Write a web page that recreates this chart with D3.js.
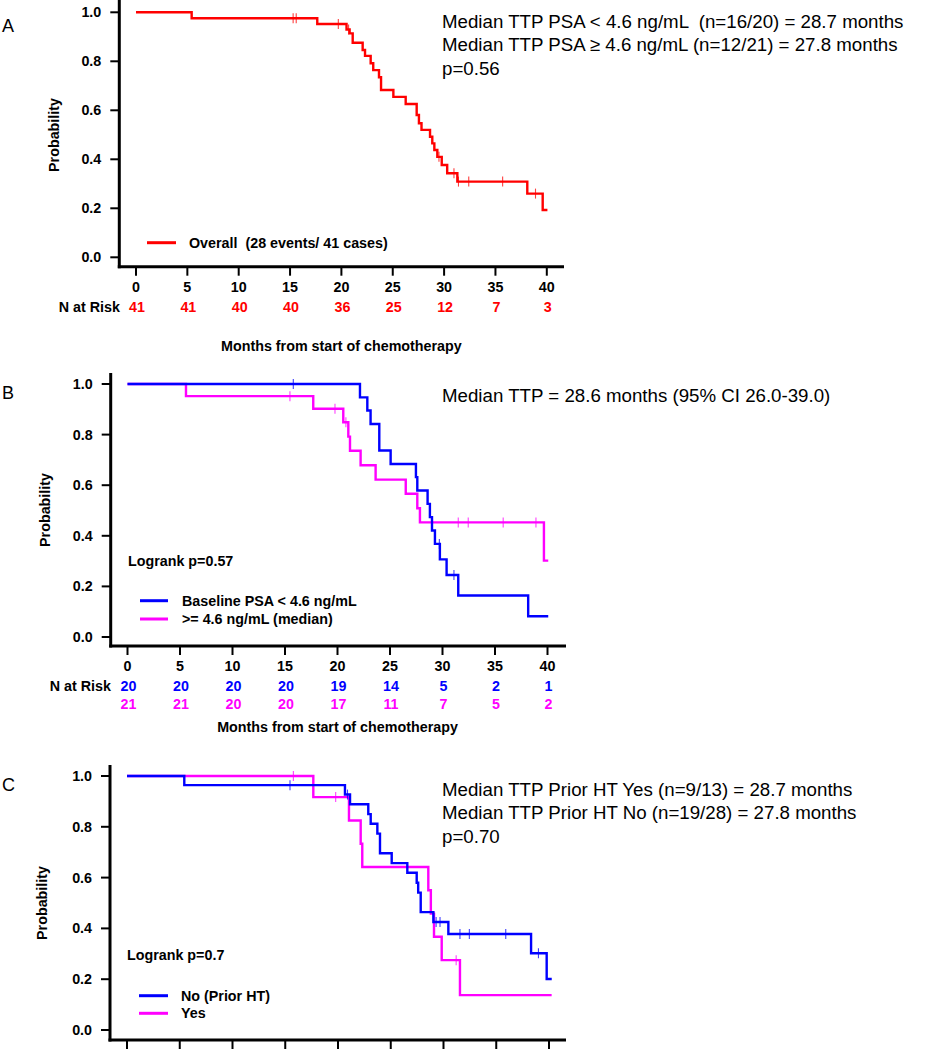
<!DOCTYPE html>
<html><head><meta charset="utf-8">
<script src="https://cdn.jsdelivr.net/npm/d3@7"></script>
<style>body{margin:0;background:#fff} svg{display:block} text{font-family:"Liberation Sans",Arial,sans-serif;white-space:pre}</style>
</head><body><svg id="c" width="950" height="1050"></svg>
<script>
// ---------- shared ticks ----------
const xTicks = [0, 5, 10, 15, 20, 25, 30, 35, 40];
const yTicks = [0, 0.2, 0.4, 0.6, 0.8, 1.0];

// ---------- Panel A : overall ----------
const aTimes = [0, 5.42, 17.65, 20.5, 20.8, 21.1, 22.07, 22.3, 22.85, 23.1, 23.66, 23.86, 25.06, 26.26, 27.33, 27.55, 27.8, 28.63, 28.85, 29.05, 29.34, 29.77, 30.3, 31.29, 38.1, 39.6];
const aSurv  = [1, 0.976, 0.952, 0.930, 0.914, 0.876, 0.846, 0.822, 0.792, 0.764, 0.735, 0.683, 0.655, 0.626, 0.581, 0.547, 0.520, 0.492, 0.465, 0.438, 0.410, 0.377, 0.343, 0.309, 0.260, 0.193];
const aEnd = 40.06;
const aCensor = [15.3, 15.6, 19.7, 20.7, 29.5, 30.96, 31.4, 32.4, 35.7, 38.9];
const aRisk = [41, 41, 40, 40, 36, 25, 12, 7, 3];
const aNotes = ["Median TTP PSA < 4.6 ng/mL  (n=16/20) = 28.7 months", "Median TTP PSA \u2265 4.6 ng/mL (n=12/21) = 27.8 months", "p=0.56"];
const aLegend = ["Overall  (28 events/ 41 cases)"];

// ---------- Panel B : baseline PSA ----------
const bLowTimes = [0, 22.14, 22.84, 23.15, 23.98, 25.06, 27.47, 27.6, 28.58, 28.8, 29.0, 29.28, 29.75, 30.39, 31.5, 38.16];
const bLowSurv  = [1, 0.947, 0.895, 0.842, 0.737, 0.684, 0.632, 0.579, 0.526, 0.474, 0.421, 0.368, 0.307, 0.245, 0.164, 0.082];
const bLowEnd = 40.07;
const bLowCensor = [15.79, 29.7, 31.09];
const bHighTimes = [0, 5.57, 17.69, 20.55, 21.03, 21.19, 22.2, 23.63, 26.5, 27.6, 27.85, 39.66];
const bHighSurv  = [1, 0.952, 0.902, 0.849, 0.792, 0.736, 0.679, 0.622, 0.566, 0.509, 0.453, 0.302];
const bHighEnd = 40.07;
const bHighCensor = [15.47, 19.76, 20.8, 31.5, 32.45, 35.78, 38.9];
const bRiskLow = [20, 20, 20, 20, 19, 14, 5, 2, 1];
const bRiskHigh = [21, 21, 20, 20, 17, 11, 7, 5, 2];
const bNotes = ["Median TTP = 28.6 months (95% CI 26.0-39.0)"];
const bLegend = ["Baseline PSA < 4.6 ng/mL", ">= 4.6 ng/mL (median)"];
const bLogrank = "Logrank p=0.57";

// ---------- Panel C : prior HT ----------
const cNoTimes = [0, 5.43, 20.66, 21.14, 22.87, 23.1, 23.73, 23.98, 25.09, 26.57, 27.46, 27.6, 27.84, 29.04, 30.46, 38.3, 39.78];
const cNoSurv  = [1, 0.964, 0.927, 0.889, 0.850, 0.812, 0.773, 0.696, 0.657, 0.619, 0.580, 0.541, 0.464, 0.425, 0.378, 0.302, 0.201];
const cNoEnd = 40.26;
const cNoCensor = [15.45, 20.9, 29.3, 29.67, 31.56, 32.45, 35.9, 39.0];
const cYesTimes = [0, 17.66, 21.04, 22.15, 22.3, 28.56, 28.8, 29.1, 29.83, 31.56];
const cYesSurv  = [1, 0.917, 0.825, 0.733, 0.642, 0.550, 0.458, 0.367, 0.275, 0.1375];
const cYesEnd = 40.25;
const cYesCensor = [15.77, 19.78, 31.2];
const cNotes = ["Median TTP Prior HT Yes (n=9/13) = 28.7 months", "Median TTP Prior HT No (n=19/28) = 27.8 months", "p=0.70"];
const cLegend = ["No (Prior HT)", "Yes"];
const cLogrank = "Logrank p=0.7";

const RED = "#ff0000", BLUE = "#0000ff", MAG = "#ff00ff";
const BF = 14.3; // bold label font size
const svg = d3.select("#c");
const fmt = d3.format(".1f");

function panel(cfg) {
  const g = svg.append("g");
  const x = d3.scaleLinear().domain([0, 40]).range([cfg.x0, cfg.x40]);
  const y = d3.scaleLinear().domain([0, 1]).range([cfg.y0, cfg.y1]);

  g.append("text").attr("x", 2).attr("y", cfg.letterY).attr("font-size", 18).text(cfg.letter);

  g.append("line").attr("x1", cfg.yAxisX).attr("x2", cfg.yAxisX).attr("y1", cfg.yTop).attr("y2", cfg.xAxisY + 1.5)
    .attr("stroke", "#000").attr("stroke-width", 3);
  g.append("line").attr("x1", cfg.yAxisX - 1.5).attr("x2", cfg.xRight).attr("y1", cfg.xAxisY).attr("y2", cfg.xAxisY)
    .attr("stroke", "#000").attr("stroke-width", 3);

  yTicks.forEach(v => {
    g.append("line").attr("x1", cfg.yAxisX - 9).attr("x2", cfg.yAxisX).attr("y1", y(v)).attr("y2", y(v))
      .attr("stroke", "#000").attr("stroke-width", 2);
    g.append("text").attr("x", cfg.yAxisX - 18).attr("y", y(v) + 5).attr("text-anchor", "end")
      .attr("font-size", BF).attr("font-weight", "bold").text(fmt(v));
  });
  g.append("text").attr("transform", `translate(${cfg.probX},${cfg.probY}) rotate(-90)`)
    .attr("text-anchor", "middle").attr("font-size", BF).attr("font-weight", "bold").text("Probability");

  xTicks.forEach(v => {
    g.append("line").attr("x1", x(v)).attr("x2", x(v)).attr("y1", cfg.xAxisY).attr("y2", cfg.xAxisY + 9)
      .attr("stroke", "#000").attr("stroke-width", 2);
    if (cfg.showTickLabels) {
      g.append("text").attr("x", x(v)).attr("y", cfg.tickLabelY).attr("text-anchor", "middle")
        .attr("font-size", BF).attr("font-weight", "bold").text(v);
    }
  });

  if (cfg.risk) {
    g.append("text").attr("x", cfg.riskLabelX).attr("y", cfg.risk[0].y).attr("text-anchor", "end")
      .attr("font-size", BF).attr("font-weight", "bold").text("N at Risk");
    cfg.risk.forEach(r => {
      r.values.forEach((n, i) => {
        g.append("text").attr("x", x(xTicks[i]) + 1).attr("y", r.y).attr("text-anchor", "middle")
          .attr("font-size", BF).attr("font-weight", "bold").attr("fill", r.color).text(n);
      });
    });
  }
  if (cfg.monthsY) {
    g.append("text").attr("x", (cfg.x0 + cfg.x40) / 2).attr("y", cfg.monthsY).attr("text-anchor", "middle")
      .attr("font-size", BF).attr("font-weight", "bold").text("Months from start of chemotherapy");
  }

  const line = d3.line().x(d => x(d[0])).y(d => y(d[1])).curve(d3.curveStepAfter);
  cfg.series.forEach(s => {
    const pts = s.times.map((t, i) => [t, s.surv[i]]);
    pts.push([s.end, s.surv[s.surv.length - 1]]);
    g.append("path").attr("d", line(pts)).attr("fill", "none").attr("stroke", s.color).attr("stroke-width", 2.4);
    s.censor.forEach(t => {
      const idx = d3.bisectRight(s.times, t) - 1;
      const v = s.surv[Math.max(0, idx)];
      g.append("line").attr("x1", x(t)).attr("x2", x(t)).attr("y1", y(v) - 5).attr("y2", y(v) + 5)
        .attr("stroke", s.color).attr("stroke-width", 1.1).attr("opacity", 0.75);
    });
  });

  cfg.legend.forEach(L => {
    g.append("line").attr("x1", cfg.legX1).attr("x2", cfg.legX2).attr("y1", L.y).attr("y2", L.y)
      .attr("stroke", L.color).attr("stroke-width", 3);
    g.append("text").attr("x", cfg.legTextX).attr("y", L.y + 5).attr("font-size", BF).attr("font-weight", "bold").text(L.text);
  });
  if (cfg.logrank) {
    g.append("text").attr("x", cfg.logrank.x).attr("y", cfg.logrank.y).attr("font-size", BF).attr("font-weight", "bold").text(cfg.logrank.text);
  }

  cfg.notes.forEach((t, i) => {
    g.append("text").attr("x", 442).attr("y", cfg.notesY + i * 23.3).attr("font-size", 18.7).text(t);
  });
}

panel({
  letter: "A", letterY: 32,
  x0: 136, x40: 546.8, y0: 257.3, y1: 12.3,
  yAxisX: 119.3, yTop: 0, xAxisY: 266.7, xRight: 564,
  probX: 59, probY: 135,
  showTickLabels: true, tickLabelY: 292,
  riskLabelX: 120, risk: [{ y: 312, values: aRisk, color: RED }],
  monthsY: 351,
  series: [{ times: aTimes, surv: aSurv, end: aEnd, censor: aCensor, color: RED }],
  legX1: 147, legX2: 176, legTextX: 189,
  legend: [{ y: 242.7, color: RED, text: aLegend[0] }],
  notes: aNotes, notesY: 28
});

panel({
  letter: "B", letterY: 399,
  x0: 127.5, x40: 547.5, y0: 637, y1: 384,
  yAxisX: 110.7, yTop: 373, xAxisY: 646, xRight: 566,
  probX: 50, probY: 510,
  showTickLabels: true, tickLabelY: 671,
  riskLabelX: 111, risk: [{ y: 691, values: bRiskLow, color: BLUE }, { y: 709, values: bRiskHigh, color: MAG }],
  monthsY: 731.5,
  series: [
    { times: bHighTimes, surv: bHighSurv, end: bHighEnd, censor: bHighCensor, color: MAG },
    { times: bLowTimes, surv: bLowSurv, end: bLowEnd, censor: bLowCensor, color: BLUE }
  ],
  legX1: 140, legX2: 168, legTextX: 182,
  legend: [{ y: 600.7, color: BLUE, text: bLegend[0] }, { y: 619, color: MAG, text: bLegend[1] }],
  logrank: { x: 128, y: 566, text: bLogrank },
  notes: bNotes, notesY: 402
});

panel({
  letter: "C", letterY: 791,
  x0: 127, x40: 549, y0: 1030, y1: 776,
  yAxisX: 110, yTop: 765, xAxisY: 1040, xRight: 566,
  probX: 47, probY: 903,
  showTickLabels: false,
  series: [
    { times: cYesTimes, surv: cYesSurv, end: cYesEnd, censor: cYesCensor, color: MAG },
    { times: cNoTimes, surv: cNoSurv, end: cNoEnd, censor: cNoCensor, color: BLUE }
  ],
  legX1: 139, legX2: 168, legTextX: 181,
  legend: [{ y: 995.7, color: BLUE, text: cLegend[0] }, { y: 1013.3, color: MAG, text: cLegend[1] }],
  logrank: { x: 127, y: 960, text: cLogrank },
  notes: cNotes, notesY: 796
});
</script></body></html>
